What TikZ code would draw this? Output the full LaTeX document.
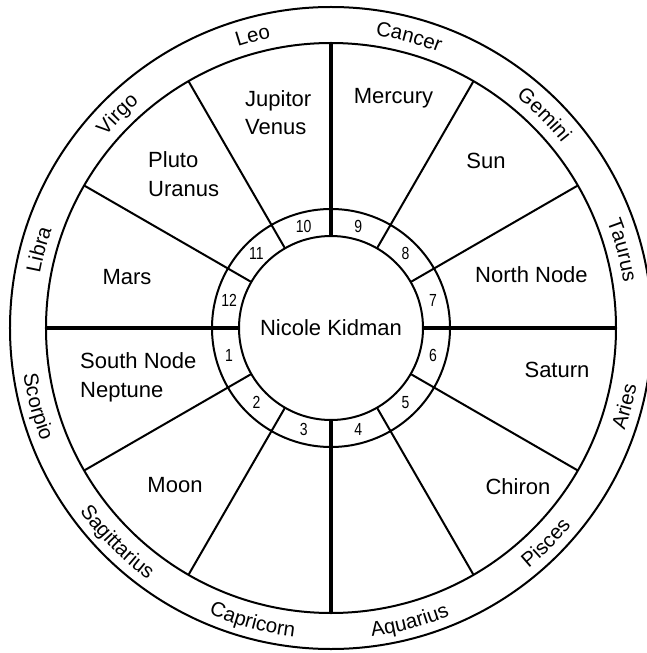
\documentclass[tikz,border=0pt]{standalone}
\usepackage{fontspec}
\setmainfont{Liberation Sans}
\newfontfamily\numfont[FakeStretch=0.8]{Liberation Sans}
\usetikzlibrary{decorations.text}
\tikzset{
  thinline/.style={line width=2pt},
  axisline/.style={line width=4.5pt},
  planet/.style={font=\fontsize{22pt}{28.5pt}\selectfont, inner sep=0pt, align=left},
  housenum/.style={font=\numfont\fontsize{17.5pt}{19pt}\selectfont, inner sep=0pt},
}
\newcommand\zodfont{\fontsize{20.5pt}{24pt}\selectfont}
\newcommand\zodup[2]{%
  \pgfmathsetmacro\za{#2+25}\pgfmathsetmacro\zb{#2-25}%
  \path[decorate,decoration={text along path,text={|\zodfont|#1},text align=center}]
    (\za:296pt) arc[start angle=\za,end angle=\zb,radius=296pt];}
\newcommand\zodlow[2]{%
  \pgfmathsetmacro\za{#2-25}\pgfmathsetmacro\zb{#2+25}%
  \path[decorate,decoration={text along path,text={|\zodfont|#1},text align=center}]
    (\za:311pt) arc[start angle=\za,end angle=\zb,radius=311pt];}
\begin{document}
\begin{tikzpicture}
\clip (-331pt,-325pt) rectangle (316pt,328pt);
\fill[white] (-331pt,-325pt) rectangle (316pt,328pt);
% circles
\draw[thinline] (0,0) circle (321pt);
\draw[thinline] (0,0) circle (285pt);
\draw[thinline] (0,0) circle (119pt);
\draw[thinline] (0,0) circle (92pt);
% cusps
\foreach \a in {30,60,120,150,210,240,300,330}
  \draw[thinline] (\a:92pt) -- (\a:285pt);
\foreach \a in {0,90,180,270}
  \draw[axisline] (\a:92pt) -- (\a:285pt);
% house numbers
\foreach \n in {1,...,12}{
  \pgfmathsetmacro\ang{195+30*(\n-1)}
  \node[housenum] (h\n) at (\ang:105.5pt) {\n};
}
% centre
\node[planet] (name) at (0pt,0pt) {Nicole Kidman};
% planets
\node[planet, anchor=west] (jv) at (-86pt,215.5pt) {Jupitor\\Venus};
\node[planet] (me) at (62.5pt,230pt) {Mercury};
\node[planet, anchor=west] (pu) at (-183pt,154pt) {Pluto\\Uranus};
\node[planet] (su) at (155pt,167pt) {Sun};
\node[planet] (ma) at (-204pt,51pt) {Mars};
\node[planet] (nn) at (200.5pt,53pt) {North Node};
\node[planet, anchor=west] (sn) at (-251pt,-49.5pt) {South Node\\Neptune};
\node[planet] (sa) at (226pt,-42pt) {Saturn};
\node[planet] (mo) at (-156pt,-157pt) {Moon};
\node[planet] (ch) at (187pt,-159pt) {Chiron};
% zodiac
\zodup{Taurus}{15}
\zodup{Gemini}{45}
\zodup{Cancer}{75}
\zodup{Leo}{105}
\zodup{Virgo}{135}
\zodup{Libra}{165}
\zodlow{Scorpio}{195}
\zodlow{Sagittarius}{225}
\zodlow{Capricorn}{255}
\zodlow{Aquarius}{285}
\zodlow{Pisces}{315}
\zodlow{Aries}{345}
\end{tikzpicture}
\end{document}
